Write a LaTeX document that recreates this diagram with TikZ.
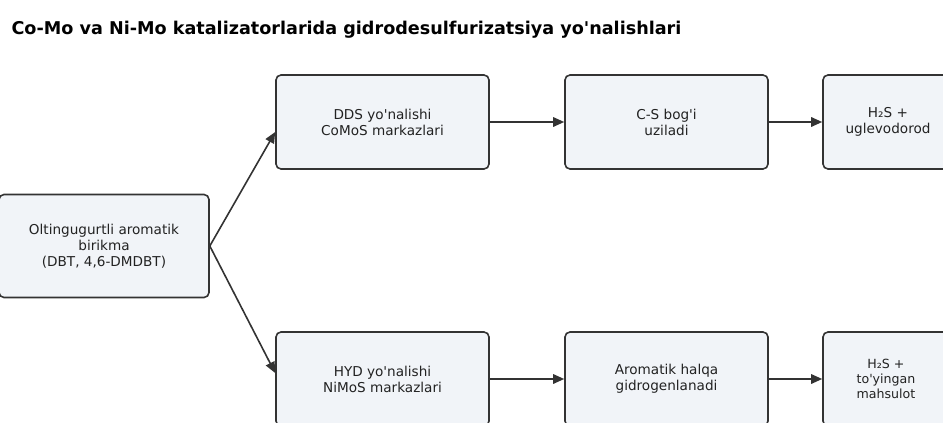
\documentclass[tikz,border=0pt]{standalone}
\usepackage{fontspec}
\setmainfont{DejaVu Sans}[Ligatures=TeXOff]
\usetikzlibrary{arrows.meta}
\definecolor{boxfill}{HTML}{F1F4F8}
\definecolor{boxline}{HTML}{333333}
\definecolor{txt}{HTML}{222222}
\tikzset{
  flowbox/.style={draw=boxline, fill=boxfill, line width=1.6pt, rounded corners=5pt,
    align=center, text=txt, font=\fontsize{13.6}{16}\selectfont, inner sep=0pt},
  flowarrow/.style={draw=boxline, line width=1.6pt, -{Triangle[length=11pt,width=9.5pt]}}
}
\begin{document}
\begin{tikzpicture}[x=1pt,y=-1pt]
\useasboundingbox (0,0) rectangle (943,423);
\node[anchor=west, font=\bfseries\fontsize{17.6}{20}\selectfont, text=black] (title) at (8,30)
  {Co-Mo va Ni-Mo katalizatorlarida gidrodesulfurizatsiya yo'nalishlari};
% nodes (centers in px)
\node[flowbox, minimum width=210pt, minimum height=103pt] (src) at (104,246)
  {Oltingugurtli aromatik\\birikma\\(DBT, 4,6-DMDBT)};
\node[flowbox, minimum width=213pt, minimum height=94pt] (dds) at (382.5,122)
  {DDS yo'nalishi\\CoMoS markazlari};
\node[flowbox, minimum width=203pt, minimum height=94pt] (cs) at (666.5,122)
  {C-S bog'i\\uziladi};
\node[flowbox, minimum width=150pt, minimum height=94pt] (h2sa) at (898,122)
  {};
\node[text=txt, font=\fontsize{13.6}{16}\selectfont, align=center] (h2sat) at (888,122)
  {H₂S +\\uglevodorod};
\node[flowbox, minimum width=213pt, minimum height=94pt] (hyd) at (382.5,379)
  {HYD yo'nalishi\\NiMoS markazlari};
\node[flowbox, minimum width=203pt, minimum height=94pt] (ar) at (666.5,379)
  {Aromatik halqa\\gidrogenlanadi};
\node[flowbox, minimum width=150pt, minimum height=94pt] (h2sb) at (898,379)
  {};
\node[text=txt, font=\fontsize{12.6}{15}\selectfont, align=center] (h2sbt) at (886,379)
  {H₂S +\\to'yingan\\mahsulot};
% connectors
\coordinate (ddsin) at ([yshift=-10pt]dds.west);
\coordinate (hydin) at ([yshift=6pt]hyd.west);
\draw[flowarrow] (src.east) -- (ddsin);
\draw[flowarrow] (src.east) -- (hydin);
\draw[flowarrow] (dds.east) -- (cs.west);
\draw[flowarrow] (cs.east) -- (h2sa.west);
\draw[flowarrow] (hyd.east) -- (ar.west);
\draw[flowarrow] (ar.east) -- (h2sb.west);
\end{tikzpicture}
\end{document}
